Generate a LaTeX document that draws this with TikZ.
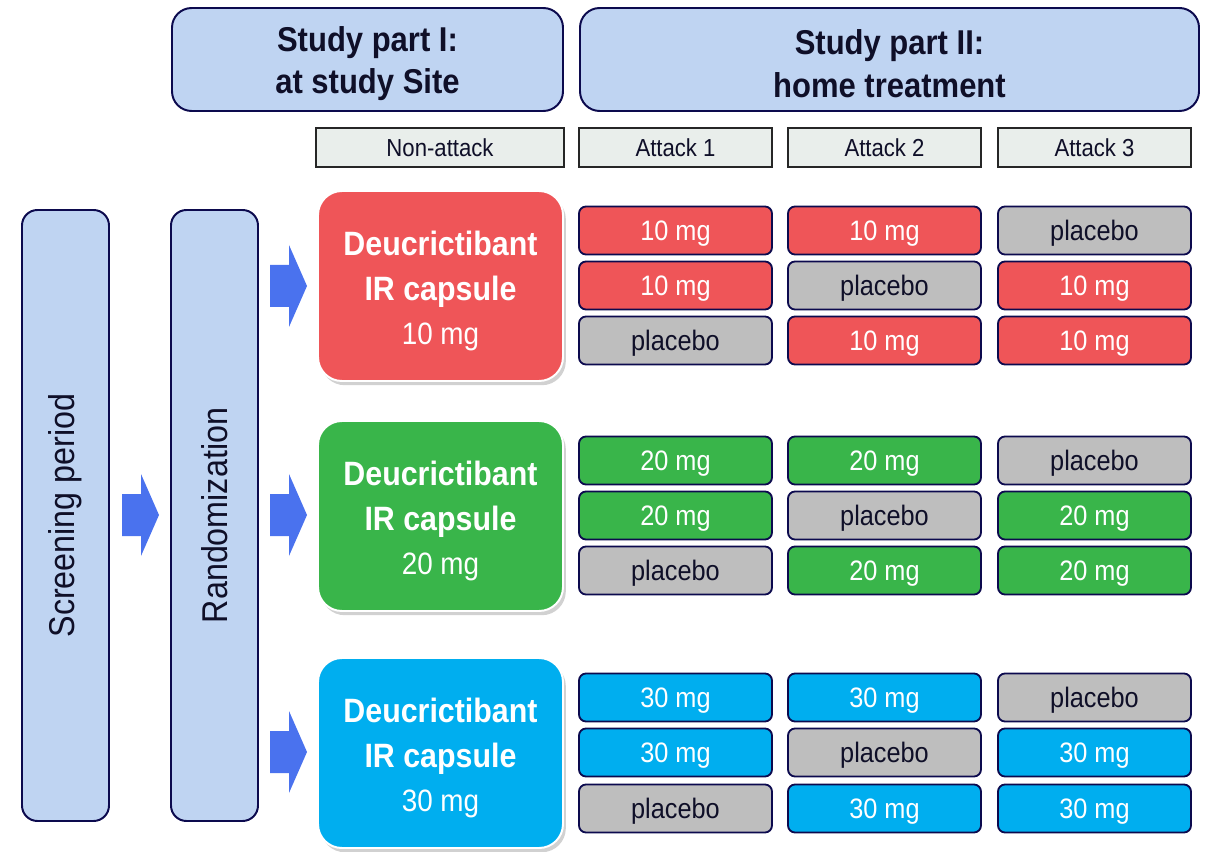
\documentclass[tikz,border=0pt]{standalone}
\usepackage{fontspec}
\setmainfont{Liberation Sans}[FakeStretch=0.9]
\usetikzlibrary{shapes,positioning,shadows}
\definecolor{partblue}{RGB}{191,212,242}
\definecolor{navy}{RGB}{12,10,78}
\definecolor{dosered}{RGB}{239,85,88}
\definecolor{dosegreen}{RGB}{57,181,74}
\definecolor{doseblue}{RGB}{0,174,239}
\definecolor{placebogray}{RGB}{190,190,190}
\definecolor{headgray}{RGB}{233,238,235}
\definecolor{arrowblue}{RGB}{74,114,238}
\definecolor{darktext}{RGB}{15,15,40}
\def\pxu{0.025cm}

\begin{document}
\begin{tikzpicture}
[x=0.025cm, y=-0.025cm, thick,
 part/.style={draw=navy, line width=1.4pt, fill=partblue, rounded corners=14pt,
   minimum height=103*\pxu},
 parttext/.style={align=center, text=darktext, font=\fontsize{24.5}{30}\selectfont\bfseries},
 phase/.style={draw=navy, line width=1.4pt, fill=partblue, rounded corners=11pt,
   rotate=90, minimum width=611*\pxu, minimum height=87*\pxu, text=darktext,
   font=\fontsize{25.5}{30}\selectfont},
 attack/.style={draw=black!85, line width=1.2pt, fill=headgray,
   minimum height=39*\pxu, text=darktext, font=\fontsize{17.5}{20}\selectfont},
 arm/.style={draw=white, line width=1.4pt, rounded corners=17pt,
   minimum width=245*\pxu, minimum height=190*\pxu,
   drop shadow={shadow xshift=2pt, shadow yshift=-3pt, opacity=.3, fill=black!60}},
 armtext/.style={align=center, text=white, font=\fontsize{24}{31.5}\selectfont},
 cell/.style={draw=navy, line width=1.3pt, rounded corners=5pt,
   minimum width=193*\pxu, minimum height=48*\pxu, inner sep=0pt,
   text height=14.3pt, text depth=0pt, font=\fontsize{20}{24}\selectfont},
 drug/.style={cell, text=white},
 plc/.style={cell, fill=placebogray, text=darktext},
 blockarrow/.pic={\fill[arrowblue] (0,-21) -- (19,-21) -- (19,-41) -- (37,0)
   -- (19,41) -- (19,21) -- (0,21) -- cycle;}]
\useasboundingbox (0,0) rectangle (1210,852);

% study parts
\node[part, minimum width=391*\pxu] (part1) at (367.5,59.5) {};
\node[part, minimum width=619*\pxu] (part2) at (889.5,59.5) {};
\node[parttext] (part1t) at ([yshift=-3pt]part1.center) {Study part I:\\at study Site};
\node[parttext] (part2t) at ([yshift=-3pt]part2.center) {Study part II:\\home treatment};

% attack headers
\node[attack, minimum width=248*\pxu] (h0) at (440,147.5) {Non-attack};
\node[attack, minimum width=193*\pxu] (h1) at (675.5,147.5) {Attack 1};
\node[attack, minimum width=193*\pxu] (h2) at (884.5,147.5) {Attack 2};
\node[attack, minimum width=193*\pxu] (h3) at (1094.5,147.5) {Attack 3};

% screening and randomization
\node[phase] (screen) at (65.5,515.5) {Screening period};
\node[phase] (random) at (214.5,515.5) {Randomization};
\pic at (122,515) {blockarrow};

% dose arms
\node[arm, fill=dosered] (arm10) at (440.5,286) {};
\node[arm, fill=dosegreen] (arm20) at (440.5,516) {};
\node[arm, fill=doseblue] (arm30) at (440.5,753) {};
\node[armtext] (arm10t) at ([yshift=-3.6pt]arm10.center) {\textbf{Deucrictibant}\\\textbf{IR capsule}\\\fontsize{22}{24}\selectfont 10 mg};
\node[armtext] (arm20t) at ([yshift=-3.6pt]arm20.center) {\textbf{Deucrictibant}\\\textbf{IR capsule}\\\fontsize{22}{24}\selectfont 20 mg};
\node[armtext] (arm30t) at ([yshift=-3.6pt]arm30.center) {\textbf{Deucrictibant}\\\textbf{IR capsule}\\\fontsize{22}{24}\selectfont 30 mg};
\pic at (270,286) {blockarrow};
\pic at (270,515) {blockarrow};
\pic at (270,752) {blockarrow};

% 10 mg arm
\node[drug, fill=dosered] (a11) at (675.5,230.5) {10 mg};
\node[drug, fill=dosered] (a12) at (884.5,230.5) {10 mg};
\node[plc] (a13) at (1094.5,230.5) {placebo};
\node[drug, fill=dosered] (a21) at (675.5,285.5) {10 mg};
\node[plc] (a22) at (884.5,285.5) {placebo};
\node[drug, fill=dosered] (a23) at (1094.5,285.5) {10 mg};
\node[plc] (a31) at (675.5,340.5) {placebo};
\node[drug, fill=dosered] (a32) at (884.5,340.5) {10 mg};
\node[drug, fill=dosered] (a33) at (1094.5,340.5) {10 mg};

% 20 mg arm
\node[drug, fill=dosegreen] (b11) at (675.5,460.5) {20 mg};
\node[drug, fill=dosegreen] (b12) at (884.5,460.5) {20 mg};
\node[plc] (b13) at (1094.5,460.5) {placebo};
\node[drug, fill=dosegreen] (b21) at (675.5,515.5) {20 mg};
\node[plc] (b22) at (884.5,515.5) {placebo};
\node[drug, fill=dosegreen] (b23) at (1094.5,515.5) {20 mg};
\node[plc] (b31) at (675.5,570.5) {placebo};
\node[drug, fill=dosegreen] (b32) at (884.5,570.5) {20 mg};
\node[drug, fill=dosegreen] (b33) at (1094.5,570.5) {20 mg};

% 30 mg arm
\node[drug, fill=doseblue] (c11) at (675.5,697.5) {30 mg};
\node[drug, fill=doseblue] (c12) at (884.5,697.5) {30 mg};
\node[plc] (c13) at (1094.5,697.5) {placebo};
\node[drug, fill=doseblue] (c21) at (675.5,752.5) {30 mg};
\node[plc] (c22) at (884.5,752.5) {placebo};
\node[drug, fill=doseblue] (c23) at (1094.5,752.5) {30 mg};
\node[plc] (c31) at (675.5,808.5) {placebo};
\node[drug, fill=doseblue] (c32) at (884.5,808.5) {30 mg};
\node[drug, fill=doseblue] (c33) at (1094.5,808.5) {30 mg};
\end{tikzpicture}
\end{document}
